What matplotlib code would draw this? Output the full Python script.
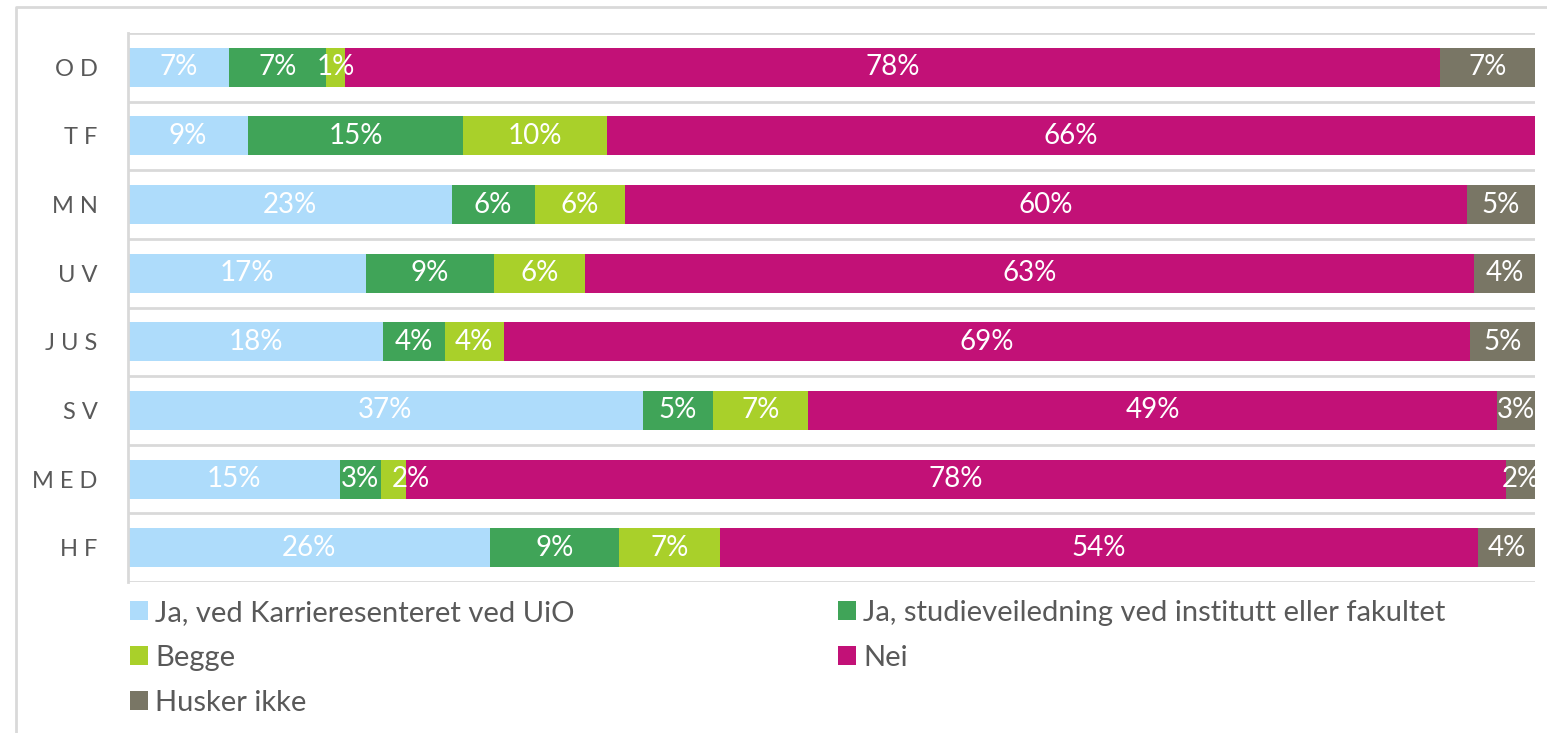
import matplotlib.pyplot as plt
import numpy as np

plt.rcParams['font.family'] = ['Lato', 'DejaVu Sans']

# Fakulteter (ovenfra og ned)
fakulteter = ["OD", "TF", "MN", "UV", "JUS", "SV", "MED", "HF"]

serier = ["Ja, ved Karrieresenteret ved UiO",
          "Ja, studieveiledning ved institutt eller fakultet",
          "Begge", "Nei", "Husker ikke"]

# Andeler i prosent
ja_karriere = [7.2, 8.55, 23.0, 16.9, 18.15, 36.6, 15.05, 25.7]
ja_studie = [6.9, 15.25, 5.9, 9.1, 4.35, 4.95, 2.9, 9.2]
begge = [1.35, 10.25, 6.45, 6.45, 4.2, 6.8, 1.8, 7.2]
nei = [77.8, 65.95, 59.8, 63.25, 68.7, 48.95, 78.2, 53.85]
husker_ikke = [6.8, 0.0, 4.85, 4.3, 4.6, 2.7, 2.05, 4.05]

farger = ["#AEDCFB", "#40A458", "#A9D02A", "#C21177", "#797665"]
tekstfarge = "#595959"
linjefarge = "#D9D9D9"

verdier = [ja_karriere, ja_studie, begge, nei, husker_ikke]

fig = plt.figure(figsize=(15.47, 7.33), dpi=100)
ax = fig.add_axes([128 / 1547, 1 - 582 / 733, (1535 - 128) / 1547, (582 - 33) / 733])

y = np.arange(len(fakulteter))
venstre = np.zeros(len(fakulteter))
handles = []
etiketter = {i: [] for i in y}
for navn, vals, farge in zip(serier, verdier, farger):
    vals = np.array(vals)
    bars = ax.barh(y, vals, left=venstre, height=0.57, color=farge, label=navn)
    handles.append(bars)
    for yi, v, l in zip(y, vals, venstre):
        if v <= 0:
            continue
        t = ax.text(l + v / 2, yi, f"{round(v)}%", ha="center", va="center",
                    color="white", fontsize=20, clip_on=True)
        etiketter[yi].append(t)
    venstre += vals

ax.set_xlim(0, 100)
ax.set_ylim(len(fakulteter) - 0.5, -0.5)

for k in range(len(fakulteter) + 1):
    ax.axhline(k - 0.5, color=linjefarge, lw=2, zorder=0)

ax.set_yticks(y)
ax.set_yticklabels([" ".join(f) for f in fakulteter], fontsize=17, color=tekstfarge)
ax.tick_params(axis="y", length=0, pad=22)
ax.set_xticks([])
for s in ["top", "right", "bottom"]:
    ax.spines[s].set_visible(False)
ax.spines["left"].set_color(linjefarge)
ax.spines["left"].set_linewidth(2)

# flytt etiketter som kolliderer litt til høyre
fig.canvas.draw()
r = fig.canvas.get_renderer()
inv = ax.transData.inverted()
for yi, tekster in etiketter.items():
    for forrige, t in zip(tekster[:-1], tekster[1:]):
        b0 = forrige.get_window_extent(r)
        b1 = t.get_window_extent(r)
        if b1.x0 < b0.x1 + 4:
            dx = b0.x1 + 12 - b1.x0
            x, _ = t.get_position()
            xpix = ax.transData.transform((x, yi))[0] + dx
            t.set_x(inv.transform((xpix, 0))[0])

# Tegnforklaring i to kolonner
leg_args = dict(loc="upper left", frameon=False, fontsize=21, labelcolor=tekstfarge,
                handlelength=0.62, handleheight=0.62, handletextpad=0.25,
                labelspacing=0.65, borderpad=0, borderaxespad=0)
fig.legend([handles[0], handles[2], handles[4]],
           [serier[0], serier[2], serier[4]],
           bbox_to_anchor=(130 / 1547, 1 - 600 / 733), **leg_args)
fig.legend([handles[1], handles[3]], [serier[1], serier[3]],
           bbox_to_anchor=(838 / 1547, 1 - 600 / 733), **leg_args)

# ramme
x0 = 16 / 1547
y0 = 1 - 7 / 733
fig.add_artist(plt.Line2D([x0, x0, 1.0], [0, y0, y0], color=linjefarge, lw=2,
                          transform=fig.transFigure))

fig.savefig("out.png", dpi=100)
